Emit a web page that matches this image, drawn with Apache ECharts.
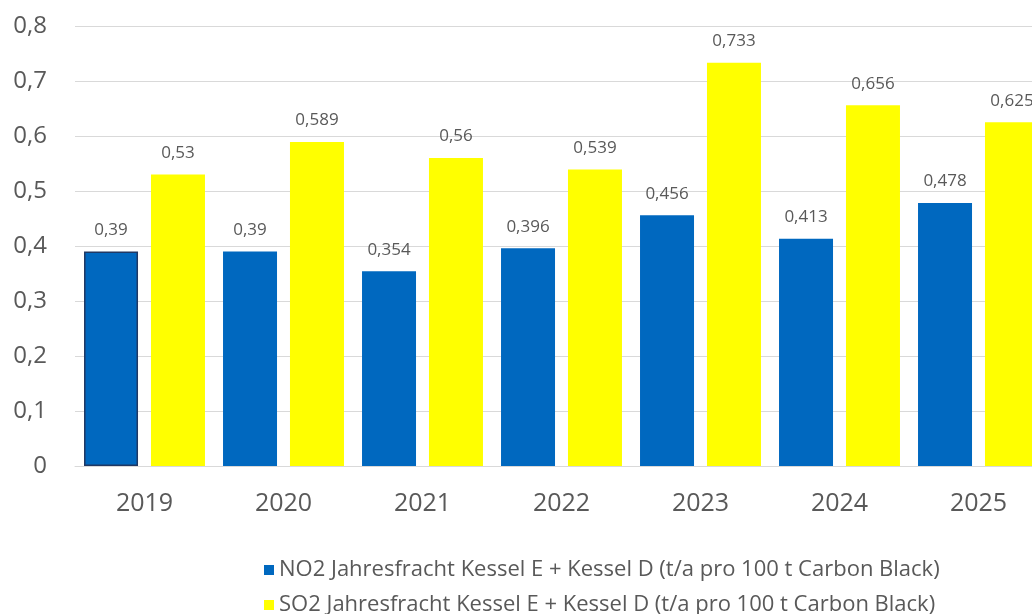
<!DOCTYPE html>
<html>
<head>
<meta charset="utf-8">
<script src="https://cdn.jsdelivr.net/npm/echarts@6/dist/echarts.min.js"></script>
<style>
  html, body { margin: 0; padding: 0; background: #fff; }
  #chart { width: 1032px; height: 614px; }
</style>
</head>
<body>
<div id="chart"></div>
<script>
// Jahre und Werte
var years = ['2019', '2020', '2021', '2022', '2023', '2024', '2025']
var no2Values = [0.39, 0.39, 0.354, 0.396, 0.456, 0.413, 0.478]
var so2Values = [0.53, 0.589, 0.56, 0.539, 0.733, 0.656, 0.625]
var no2Name = 'NO2 Jahresfracht Kessel E + Kessel D (t/a pro 100 t Carbon Black)'
var so2Name = 'SO2 Jahresfracht Kessel E + Kessel D (t/a pro 100 t Carbon Black)'

var font = '"Open Sans", "Noto Sans", sans-serif'
var grey = '#595959'
var gridGrey = '#d9d9d9'

function deComma(v) {
  return String(v).replace('.', ',')
}

var chart = echarts.init(document.getElementById('chart'))

var labelStyle = {
  show: true,
  position: 'top',
  distance: 13,
  color: grey,
  fontSize: 17,
  fontFamily: font,
  formatter: function (p) { return deComma(p.value) }
}

// eine Legende pro Zeile, damit nichts umbricht
function legendRow(name, top) {
  return {
    left: 264,
    top: top,
    padding: 0,
    itemWidth: 10,
    itemHeight: 10,
    icon: 'rect',
    textStyle: { color: grey, fontSize: 22, fontFamily: font },
    data: [name]
  }
}

chart.setOption({
  animation: false,
  textStyle: { fontFamily: font },
  grid: {
    show: false,
    borderColor: 'rgba(0,0,0,0)',
    left: 75,
    top: 26,
    bottom: 148,
    width: 973,
    outerBoundsMode: 'none'
  },
  legend: [legendRow(no2Name, 559), legendRow(so2Name, 594)],
  xAxis: {
    type: 'category',
    data: years,
    axisLine: { lineStyle: { color: gridGrey } },
    axisTick: { show: false },
    splitLine: { show: false },
    splitArea: { show: false },
    axisLabel: { color: grey, fontSize: 25, fontFamily: font, margin: 25 }
  },
  yAxis: {
    type: 'value',
    min: 0,
    max: 0.8,
    interval: 0.1,
    axisLine: { show: false, lineStyle: { color: 'rgba(0,0,0,0)' } },
    axisTick: { show: false },
    splitArea: { show: false },
    splitLine: { lineStyle: { color: gridGrey } },
    axisLabel: {
      color: grey,
      fontSize: 24,
      fontFamily: font,
      margin: 28,
      formatter: function (v) { return deComma(Math.round(v * 10) / 10) }
    }
  },
  series: [
    {
      name: no2Name,
      type: 'bar',
      data: no2Values.map(function (v, i) {
        if (i === 0) {
          return { value: v, itemStyle: { borderColor: '#1f3864', borderWidth: 1.5 } }
        }
        return v
      }),
      barWidth: 54,
      barGap: '24%',
      itemStyle: { color: '#0068bf' },
      label: labelStyle
    },
    {
      name: so2Name,
      type: 'bar',
      data: so2Values,
      barWidth: 54,
      itemStyle: { color: '#ffff00' },
      label: labelStyle
    }
  ]
})
</script>
</body>
</html>
